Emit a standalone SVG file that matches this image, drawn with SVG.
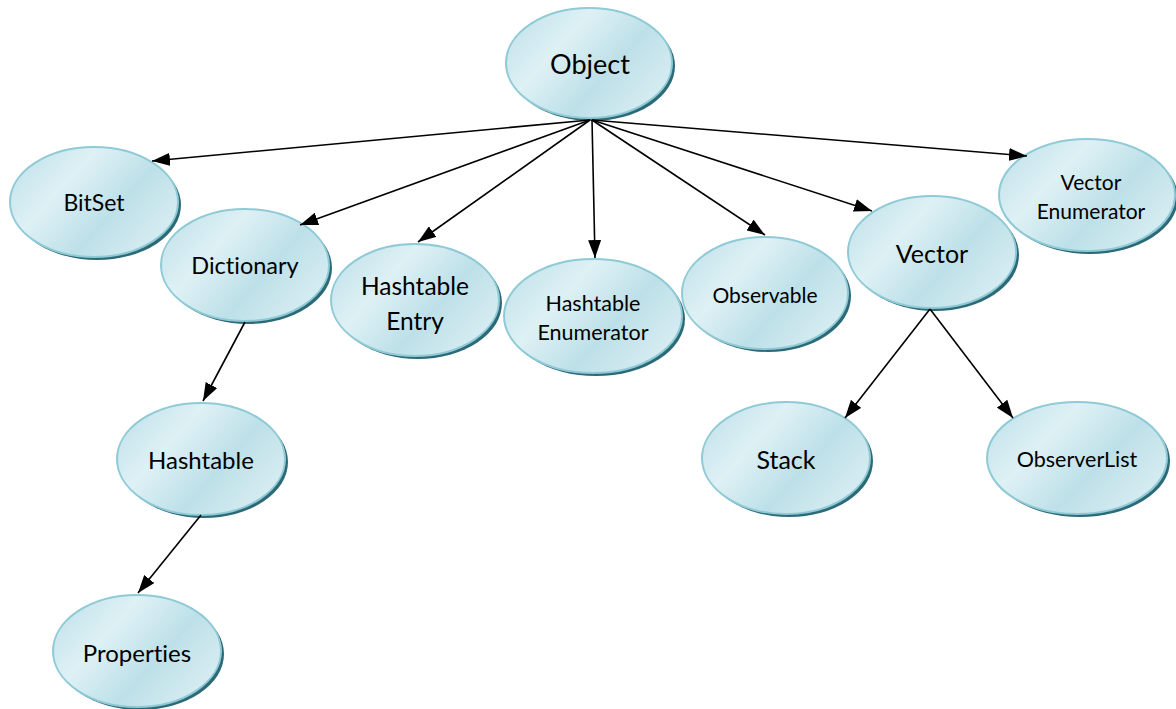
<svg xmlns="http://www.w3.org/2000/svg" width="1176" height="709" viewBox="0 0 1176 709">
<style>
.sh{fill:#2d6a78}
.nd{fill:url(#g);stroke:#8fcad6;stroke-width:2}
.t{font-family:Lato,"Open Sans","Liberation Sans",sans-serif;fill:#000;text-anchor:middle;dominant-baseline:central;font-variant-ligatures:none}
.c line{stroke:#000;stroke-width:1.6;marker-end:url(#ah)}
</style>
<defs>
<linearGradient id="g" x1="0" y1="0.2" x2="1" y2="0.8">
<stop offset="0" stop-color="#c2e3ea"/>
<stop offset="0.3" stop-color="#def1f5"/>
<stop offset="0.62" stop-color="#bde0e8"/>
<stop offset="1" stop-color="#dbeff3"/>
</linearGradient>
<marker id="ah" viewBox="0 0 18 13" refX="18" refY="6.5" markerWidth="18" markerHeight="13" markerUnits="userSpaceOnUse" orient="auto">
<path d="M0,0 L18,6.5 L0,13 z" fill="#000"/>
</marker>
</defs>
<rect width="1176" height="709" fill="#fff"/>
<g id="n-object"><ellipse class="sh" cx="592" cy="66" rx="83" ry="55"/><ellipse class="nd" cx="589" cy="63" rx="83" ry="55"/><text class="t" x="590" y="63" font-size="27">Object</text></g>
<g id="n-bitset"><ellipse class="sh" cx="97" cy="205" rx="84" ry="55"/><ellipse class="nd" cx="94" cy="202" rx="84" ry="55"/><text class="t" x="94" y="202" font-size="23">BitSet</text></g>
<g id="n-dictionary"><ellipse class="sh" cx="248" cy="268" rx="84" ry="56"/><ellipse class="nd" cx="245" cy="265" rx="84" ry="56"/><text class="t" x="245" y="265" font-size="23.5">Dictionary</text></g>
<g id="n-hashtableentry"><ellipse class="sh" cx="418" cy="303" rx="84" ry="56"/><ellipse class="nd" cx="415" cy="300" rx="84" ry="56"/><text class="t" x="415" y="285" font-size="24.5">Hashtable</text><text class="t" x="415" y="320" font-size="24.5">Entry</text></g>
<g id="n-hashtableenum"><ellipse class="sh" cx="596" cy="319" rx="89" ry="57"/><ellipse class="nd" cx="593" cy="316" rx="89" ry="57"/><text class="t" x="593" y="303" font-size="21.5">Hashtable</text><text class="t" x="593" y="332" font-size="21.5">Enumerator</text></g>
<g id="n-observable"><ellipse class="sh" cx="768" cy="296" rx="83" ry="56"/><ellipse class="nd" cx="765" cy="293" rx="83" ry="56"/><text class="t" x="765" y="294" font-size="21">Observable</text></g>
<g id="n-vector"><ellipse class="sh" cx="935" cy="255" rx="84" ry="56"/><ellipse class="nd" cx="932" cy="252" rx="84" ry="56"/><text class="t" x="932" y="253" font-size="25">Vector</text></g>
<g id="n-vectorenum"><ellipse class="sh" cx="1090" cy="198" rx="88" ry="56"/><ellipse class="nd" cx="1087" cy="195" rx="88" ry="56"/><text class="t" x="1091" y="181" font-size="21">Vector</text><text class="t" x="1091" y="210" font-size="21">Enumerator</text></g>
<g id="n-hashtable"><ellipse class="sh" cx="204" cy="462" rx="84" ry="56"/><ellipse class="nd" cx="201" cy="459" rx="84" ry="56"/><text class="t" x="201" y="459" font-size="24">Hashtable</text></g>
<g id="n-stack"><ellipse class="sh" cx="789" cy="461" rx="84" ry="56"/><ellipse class="nd" cx="786" cy="458" rx="84" ry="56"/><text class="t" x="786" y="459" font-size="25">Stack</text></g>
<g id="n-observerlist"><ellipse class="sh" cx="1080" cy="461" rx="90" ry="56"/><ellipse class="nd" cx="1077" cy="458" rx="90" ry="56"/><text class="t" x="1077" y="459" font-size="21.5">ObserverList</text></g>
<g id="n-properties"><ellipse class="sh" cx="140" cy="654" rx="84" ry="56"/><ellipse class="nd" cx="137" cy="651" rx="84" ry="56"/><text class="t" x="137" y="652" font-size="24">Properties</text></g>
<g id="connectors" class="c">
<line x1="590" y1="120" x2="152" y2="161"/>
<line x1="590" y1="120" x2="300" y2="225"/>
<line x1="590" y1="120" x2="418" y2="242"/>
<line x1="592" y1="120" x2="595" y2="258"/>
<line x1="592" y1="120" x2="765" y2="235"/>
<line x1="592" y1="120" x2="872" y2="211"/>
<line x1="592" y1="120" x2="1027" y2="156"/>
<line x1="245" y1="322" x2="203" y2="401"/>
<line x1="201" y1="515" x2="138" y2="593"/>
<line x1="930" y1="309" x2="845" y2="418"/>
<line x1="930" y1="309" x2="1013" y2="418"/>
</g>
</svg>
